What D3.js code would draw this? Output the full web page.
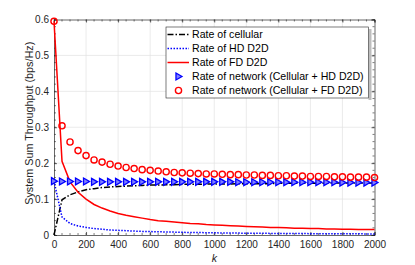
<!DOCTYPE html>
<html>
<head>
<meta charset="utf-8">
<script src="https://cdn.jsdelivr.net/npm/d3@7"></script>
<style>
  body { margin: 0; background: #fff; }
  svg { font-family: "Liberation Sans", Arial, sans-serif; }
</style>
</head>
<body>
<svg id="chart"></svg>
<script>
// k values, every 50 from 0 to 2000
const kValues = d3.range(0, 2001, 50)

const rateCellular = [0, 0.098, 0.112, 0.120, 0.126, 0.129, 0.132, 0.134, 0.135, 0.136,
  0.137, 0.138, 0.139, 0.139, 0.140, 0.140, 0.141, 0.141, 0.141, 0.142,
  0.142, 0.142, 0.142, 0.143, 0.143, 0.143, 0.143, 0.143, 0.144, 0.144,
  0.144, 0.144, 0.144, 0.144, 0.144, 0.145, 0.145, 0.145, 0.145, 0.145, 0.145]

const rateHD = [0.150, 0.050, 0.032, 0.025, 0.021, 0.018, 0.016, 0.014, 0.013, 0.012,
  0.011, 0.010, 0.0095, 0.009, 0.0085, 0.008, 0.0075, 0.007, 0.0068, 0.0065,
  0.006, 0.0058, 0.0055, 0.0053, 0.005, 0.0048, 0.0046, 0.0045, 0.0043, 0.0042,
  0.004, 0.0039, 0.0038, 0.0037, 0.0036, 0.0035, 0.0034, 0.0033, 0.0032, 0.0031, 0.003]

const rateFD = [0.595, 0.205, 0.148, 0.119, 0.100, 0.085, 0.075, 0.067, 0.060, 0.055,
  0.051, 0.047, 0.043, 0.040, 0.038, 0.036, 0.034, 0.032, 0.031, 0.029,
  0.028, 0.027, 0.026, 0.025, 0.024, 0.023, 0.022, 0.021, 0.021, 0.020,
  0.019, 0.019, 0.018, 0.018, 0.017, 0.017, 0.016, 0.016, 0.015, 0.015, 0.015]

const rateNetHD = [0.150, 0.149, 0.149, 0.149, 0.149, 0.148, 0.148, 0.148, 0.148, 0.148,
  0.148, 0.148, 0.148, 0.148, 0.148, 0.148, 0.148, 0.148, 0.148, 0.148,
  0.148, 0.148, 0.148, 0.147, 0.147, 0.147, 0.147, 0.147, 0.147, 0.147,
  0.147, 0.147, 0.147, 0.147, 0.147, 0.147, 0.146, 0.146, 0.146, 0.146, 0.146]

const rateNetFD = [0.595, 0.304, 0.259, 0.235, 0.221, 0.209, 0.203, 0.197, 0.192, 0.188,
  0.185, 0.182, 0.180, 0.178, 0.176, 0.174, 0.173, 0.172, 0.171, 0.170,
  0.170, 0.169, 0.168, 0.168, 0.167, 0.167, 0.166, 0.166, 0.165, 0.165,
  0.164, 0.164, 0.163, 0.163, 0.163, 0.162, 0.162, 0.161, 0.161, 0.161, 0.160]

const xTicks = d3.range(0, 2001, 200)
const yTicks = [0, 0.1, 0.2, 0.3, 0.4, 0.5, 0.6]

const legendLabels = ['Rate of cellular', 'Rate of HD D2D', 'Rate of FD D2D',
  'Rate of network (Cellular + HD D2D)', 'Rate of network (Cellular + FD D2D)']

const W = 415, H = 265
const margin = {top: 19.5, bottom: 30, left: 54, right: 40.5}
const width = W - margin.left - margin.right
const height = H - margin.top - margin.bottom
const axisColor = '#262626'

const svg = d3.select('#chart').attr('width', W).attr('height', H)
const g = svg.append('g').attr('transform', `translate(${margin.left},${margin.top})`)

const x = d3.scaleLinear().domain([0, 2000]).range([0, width])
const y = d3.scaleLinear().domain([0, 0.6]).range([height, 0])

// grid
g.append('g').selectAll('line').data(xTicks.slice(1, -1)).join('line')
  .attr('x1', d => x(d)).attr('x2', d => x(d)).attr('y1', 0).attr('y2', height)
  .attr('stroke', '#e3e3e3').attr('stroke-width', 0.7)
g.append('g').selectAll('line').data(yTicks.slice(1, -1)).join('line')
  .attr('y1', d => y(d)).attr('y2', d => y(d)).attr('x1', 0).attr('x2', width)
  .attr('stroke', '#e3e3e3').attr('stroke-width', 0.7)

// axes, ticks pointing inward
const xMinor = d3.range(0, 2001, 50)
const yMinor = d3.range(0, 0.6001, 0.02)

const axBottom = g.append('g').attr('transform', `translate(0,${height})`)
  .call(d3.axisBottom(x).tickValues(xTicks).tickSize(-3).tickPadding(6).tickFormat(d3.format('d')))
const axTop = g.append('g')
  .call(d3.axisTop(x).tickValues(xTicks).tickSize(-3).tickFormat(''))
const axLeft = g.append('g')
  .call(d3.axisLeft(y).tickValues(yTicks).tickSize(-3).tickPadding(5).tickFormat(d => d === 0 ? '0' : d3.format('.1f')(d)))
const axRight = g.append('g').attr('transform', `translate(${width},0)`)
  .call(d3.axisRight(y).tickValues(yTicks).tickSize(-3).tickFormat(''))

;[axBottom, axTop, axLeft, axRight].forEach(a => {
  a.select('.domain').attr('stroke', axisColor).attr('stroke-width', 0.7)
  a.selectAll('.tick line').attr('stroke', axisColor).attr('stroke-width', 0.7)
  a.selectAll('text').attr('fill', axisColor).attr('font-size', 10)
})

// minor ticks
g.append('g').selectAll('line').data(xMinor).join('line')
  .attr('x1', d => x(d)).attr('x2', d => x(d)).attr('y1', height).attr('y2', height - 2)
  .attr('stroke', axisColor).attr('stroke-width', 0.6)
g.append('g').selectAll('line').data(xMinor).join('line')
  .attr('x1', d => x(d)).attr('x2', d => x(d)).attr('y1', 0).attr('y2', 2)
  .attr('stroke', axisColor).attr('stroke-width', 0.6)
g.append('g').selectAll('line').data(yMinor).join('line')
  .attr('y1', d => y(d)).attr('y2', d => y(d)).attr('x1', 0).attr('x2', 2)
  .attr('stroke', axisColor).attr('stroke-width', 0.6)
g.append('g').selectAll('line').data(yMinor).join('line')
  .attr('y1', d => y(d)).attr('y2', d => y(d)).attr('x1', width).attr('x2', width - 2)
  .attr('stroke', axisColor).attr('stroke-width', 0.6)

// axis labels
g.append('text').attr('x', width / 2).attr('y', height + 27)
  .attr('text-anchor', 'middle').attr('font-size', 10.5).attr('font-style', 'italic')
  .attr('fill', axisColor).text('k')
g.append('text').attr('transform', `translate(${-21},${height / 2 - 4}) rotate(-90)`)
  .attr('text-anchor', 'middle').attr('font-size', 10.8).attr('fill', axisColor)
  .text('System Sum Throughput (bps/Hz)')

// lines
const line = d3.line().x((d, i) => x(kValues[i])).y(d => y(d))
g.append('path').datum(rateCellular).attr('d', line).attr('fill', 'none')
  .attr('stroke', '#000').attr('stroke-width', 1.5).attr('stroke-dasharray', '6,2,1.5,2')
g.append('path').datum(rateHD).attr('d', line).attr('fill', 'none')
  .attr('stroke', '#0000ff').attr('stroke-width', 1.5).attr('stroke-dasharray', '1.5,1.5')
g.append('path').datum(rateFD).attr('d', line).attr('fill', 'none')
  .attr('stroke', '#ff0000').attr('stroke-width', 1.5)

// markers
const tri = s => `M${-s * 0.55},${-s * 0.75}L${s * 0.75},0L${-s * 0.55},${s * 0.75}Z`
g.append('g').selectAll('path').data(rateNetHD).join('path')
  .attr('transform', (d, i) => `translate(${x(kValues[i])},${y(d)})`)
  .attr('d', tri(4.6)).attr('fill', '#8080ff').attr('stroke', '#0000ff').attr('stroke-width', 1.3)
g.append('g').selectAll('circle').data(rateNetFD).join('circle')
  .attr('cx', (d, i) => x(kValues[i])).attr('cy', d => y(d)).attr('r', 3.1)
  .attr('fill', 'none').attr('stroke', '#ff0000').attr('stroke-width', 1.4)

// legend
const lg = svg.append('g').attr('transform', 'translate(166,27)')
const lw = 202.5, lh = 71
lg.append('rect').attr('x', lw).attr('y', 2).attr('width', 3).attr('height', lh)
  .attr('fill', '#bdbdbd')
lg.append('rect').attr('width', lw).attr('height', lh).attr('fill', '#fff')
  .attr('stroke', axisColor).attr('stroke-width', 0.6)
const rows = lg.selectAll('g.row').data(legendLabels).join('g').attr('class', 'row')
  .attr('transform', (d, i) => `translate(0,${7.5 + i * 14})`)
rows.append('text').attr('x', 26).attr('y', 3.8).attr('font-size', 10.6)
  .attr('fill', '#000').text(d => d)
const rowsArr = rows.nodes().map(n => d3.select(n))
rowsArr[0].append('line').attr('x1', 1.5).attr('x2', 23).attr('stroke', '#000')
  .attr('stroke-width', 1.5).attr('stroke-dasharray', '6,2,1.5,2')
rowsArr[1].append('line').attr('x1', 1.5).attr('x2', 23).attr('stroke', '#0000ff')
  .attr('stroke-width', 1.5).attr('stroke-dasharray', '1.5,1.5')
rowsArr[2].append('line').attr('x1', 1.5).attr('x2', 23).attr('stroke', '#ff0000')
  .attr('stroke-width', 1.5)
rowsArr[3].append('path').attr('transform', 'translate(12.5,0)').attr('d', tri(4.6))
  .attr('fill', '#8080ff').attr('stroke', '#0000ff').attr('stroke-width', 1.3)
rowsArr[4].append('circle').attr('cx', 12.5).attr('r', 3.1)
  .attr('fill', 'none').attr('stroke', '#ff0000').attr('stroke-width', 1.4)
</script>
</body>
</html>
